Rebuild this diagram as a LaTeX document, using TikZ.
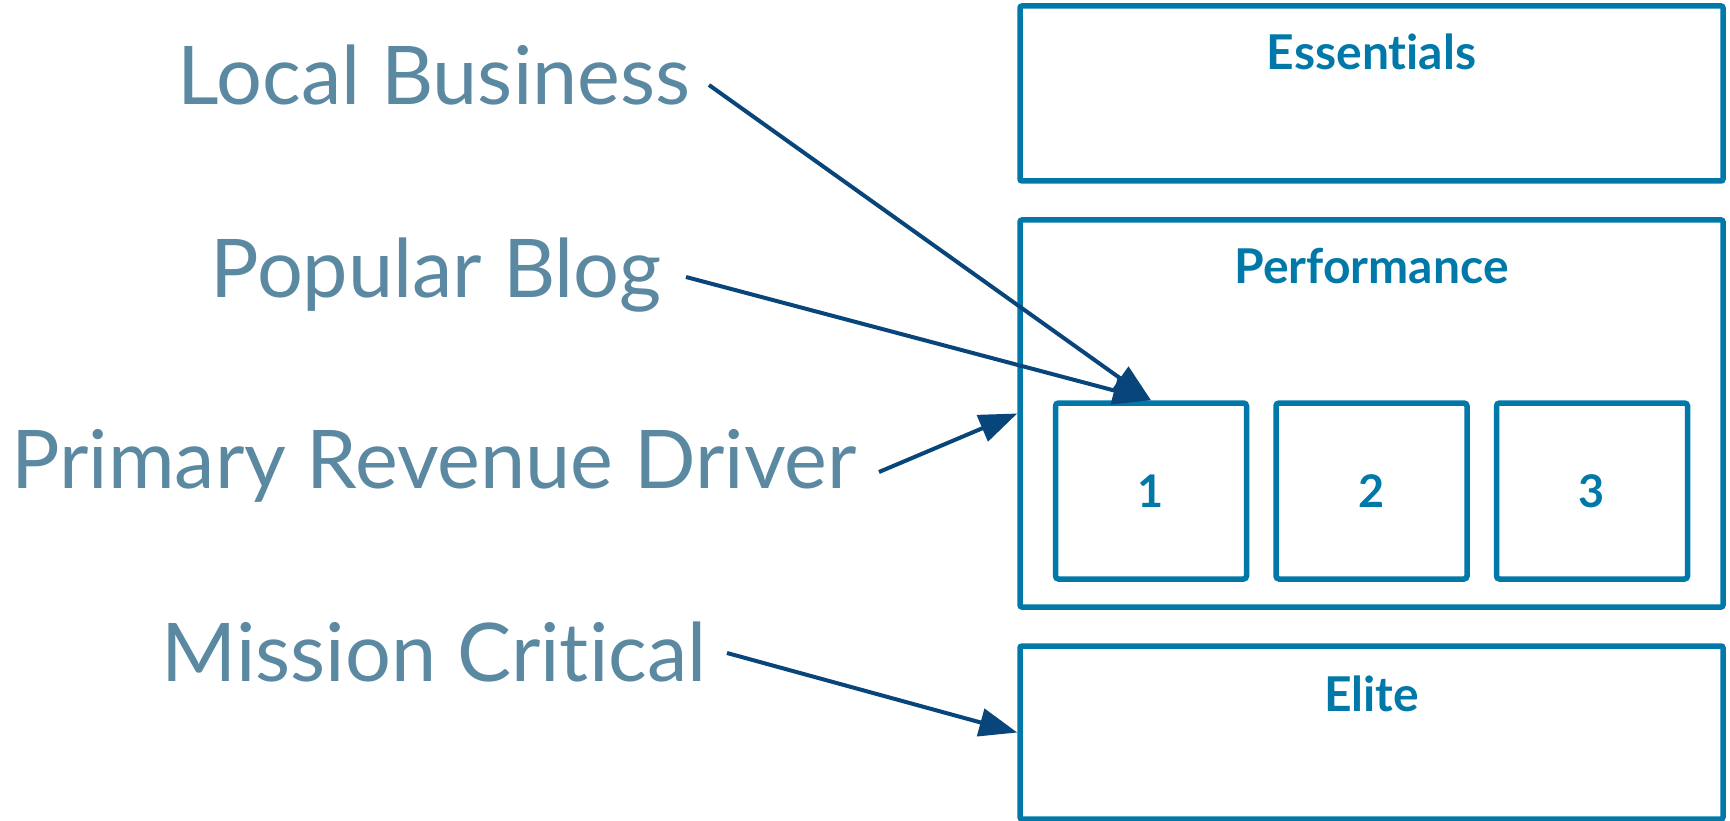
\documentclass[tikz,border=0pt]{standalone}
\usepackage{fontspec}
\setmainfont{Lato}[Ligatures=NoCommon]
\usetikzlibrary{arrows.meta}
\definecolor{tierblue}{HTML}{0179A8}
\definecolor{labelblue}{HTML}{5B89A1}
\definecolor{arrowblue}{HTML}{08457A}
\tikzset{
  tier/.style={draw=tierblue, line width=5.5pt, rectangle, rounded corners=2pt,
    inner sep=0pt},
  slot/.style={tier, rounded corners=3pt, minimum width=191pt, minimum height=176pt,
    text=tierblue, font=\fontsize{45}{52}\selectfont\bfseries},
  tiername/.style={text=tierblue, font=\fontsize{48}{56}\selectfont\bfseries,
    anchor=base, inner sep=0pt},
  usecase/.style={text=labelblue, font=\fontsize{81}{97}\selectfont,
    anchor=base, inner sep=0pt},
  pointer/.style={draw=arrowblue, line width=4pt,
    -{Triangle[length=38pt,width=28pt]}},
}
\begin{document}
\begin{tikzpicture}[x=1pt,y=-1pt]
\useasboundingbox (0,0) rectangle (1730,821);

% service tiers
\node[tier, minimum width=703pt, minimum height=175pt] (ess) at (1371.5,93.5) {};
\node[tier, minimum width=703pt, minimum height=387pt] (perf) at (1371.5,413.5) {};
\node[tier, minimum width=703pt, minimum height=173pt] (elite) at (1371.5,732.5) {};

\node[tiername] (esst) at (1371.5,69.5) {Essentials};
\node[tiername] (perft) at (1371.5,283.6) {Performance};
\node[tiername] (elitet) at (1371.5,711.6) {Elite};

% performance sub-levels
\node[slot] (one) at (1151,491) {1};
\node[slot] (two) at (1371.5,491) {2};
\node[slot] (three) at (1592,491) {3};

% use cases
\node[usecase] (lb) at (434,105) {Local Business};
\node[usecase] (pb) at (436,298) {Popular Blog};
\node[usecase] (prd) at (434,488) {Primary Revenue Driver};
\node[usecase] (mc) at (434,681) {Mission Critical};

% pointers from use cases to tiers
\coordinate (lbs) at (709,85);
\coordinate (pbs) at (686,277);
\coordinate (prds) at (879,472);
\coordinate (mcs) at (727,653);
\draw[pointer] (lbs) -- (one.north);
\draw[pointer] (pbs) -- (one.north);
\draw[pointer] (prds) -- (perf.west);
\draw[pointer] (mcs) -- (elite.west);
\end{tikzpicture}
\end{document}
